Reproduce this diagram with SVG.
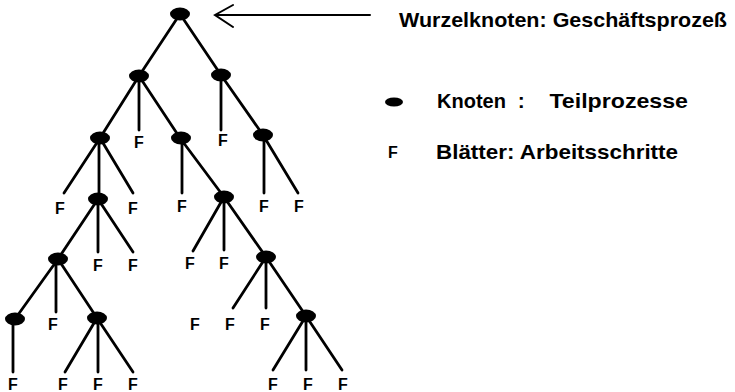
<svg xmlns="http://www.w3.org/2000/svg" width="735" height="392" viewBox="0 0 735 392">
<style>
  .edge { stroke: #000; stroke-width: 2.8; stroke-linecap: round; fill: none; }
  .node { fill: #000; }
  .leaf { font-family: "Liberation Sans", Arial, sans-serif; font-weight: bold; font-size: 16px; text-anchor: middle; fill: #000; }
  .lbl { font-family: "Liberation Sans", Arial, sans-serif; font-weight: bold; font-size: 21px; fill: #000; }
</style>
<rect width="735" height="392" fill="#fff"/>
<g id="connectors">
  <path class="edge" style="stroke-width:2" d="M215 15 H370 M233 5 L215 15 L233 27"/>
  <path class="edge" d="M180 14 L139 76 M180 14 L221 75"/>
  <path class="edge" d="M139 76 L100 138 M139 76 V130 M139 76 L180 138"/>
  <path class="edge" d="M221 75 V130 M221 75 L263 135"/>
  <path class="edge" d="M100 138 L64 193 M99 138 V193 M100 138 L133 193"/>
  <path class="edge" d="M182 138 V193 M180 138 L224 197"/>
  <path class="edge" d="M264 135 V193 M263 135 L298 193"/>
  <path class="edge" d="M98 199 L58 259 M98 199 V252 M98 199 L133 252"/>
  <path class="edge" d="M224 197 L193 251 M224 197 V250 M224 197 L266 257"/>
  <path class="edge" d="M58 259 L15 319 M56 259 V312 M58 259 L97 318"/>
  <path class="edge" d="M266 257 L233 308 M266 257 V308 M266 257 L306 316"/>
  <path class="edge" d="M13 319 V372"/>
  <path class="edge" d="M97 318 L65 372 M98 318 V372 M97 318 L133 372"/>
  <path class="edge" d="M306 316 L273 370 M306 316 V370 M306 316 L342 370"/>
</g>
<g id="n0"><ellipse class="node" cx="180" cy="14" rx="10" ry="6.5"/></g>
<g id="n1"><ellipse class="node" cx="139" cy="76" rx="10" ry="6.5"/></g>
<g id="n2"><ellipse class="node" cx="221" cy="75" rx="10" ry="6.5"/></g>
<g id="n3"><ellipse class="node" cx="100" cy="138" rx="10" ry="6.5"/></g>
<g id="n4"><ellipse class="node" cx="181" cy="138" rx="10" ry="6.5"/></g>
<g id="n5"><ellipse class="node" cx="263" cy="135" rx="10" ry="6.5"/></g>
<g id="n6"><ellipse class="node" cx="98" cy="199" rx="10" ry="6.5"/></g>
<g id="n7"><ellipse class="node" cx="224" cy="197" rx="10" ry="6.5"/></g>
<g id="n8"><ellipse class="node" cx="58" cy="259" rx="10" ry="6.5"/></g>
<g id="n9"><ellipse class="node" cx="266" cy="257" rx="10" ry="6.5"/></g>
<g id="n10"><ellipse class="node" cx="15" cy="319" rx="10" ry="6.5"/></g>
<g id="n11"><ellipse class="node" cx="97" cy="318" rx="10" ry="6.5"/></g>
<g id="n12"><ellipse class="node" cx="306" cy="316" rx="10" ry="6.5"/></g>
<g id="leaves">
  <text class="leaf" x="139" y="148">F</text>
  <text class="leaf" x="223" y="146">F</text>
  <text class="leaf" x="60" y="214">F</text>
  <text class="leaf" x="133" y="214">F</text>
  <text class="leaf" x="182" y="212">F</text>
  <text class="leaf" x="264" y="212">F</text>
  <text class="leaf" x="299" y="212">F</text>
  <text class="leaf" x="98" y="271">F</text>
  <text class="leaf" x="133" y="271">F</text>
  <text class="leaf" x="190" y="269">F</text>
  <text class="leaf" x="224" y="269">F</text>
  <text class="leaf" x="53" y="330">F</text>
  <text class="leaf" x="195" y="330">F</text>
  <text class="leaf" x="230" y="330">F</text>
  <text class="leaf" x="265" y="330">F</text>
  <text class="leaf" x="13" y="390">F</text>
  <text class="leaf" x="63" y="390">F</text>
  <text class="leaf" x="98" y="390">F</text>
  <text class="leaf" x="133" y="390">F</text>
  <text class="leaf" x="273" y="390">F</text>
  <text class="leaf" x="308" y="390">F</text>
  <text class="leaf" x="343" y="390">F</text>
</g>
<g id="legend">
  <text class="lbl" x="399" y="27" textLength="328" lengthAdjust="spacingAndGlyphs">Wurzelknoten: Geschäftsprozeß</text>
  <ellipse class="node" cx="394" cy="102" rx="9" ry="4.5"/>
  <text class="lbl" y="108"><tspan x="437" style="font-size:20px">Knoten</tspan><tspan x="512"> :</tspan><tspan x="543" textLength="145" lengthAdjust="spacingAndGlyphs"> Teilprozesse</tspan></text>
  <text class="leaf" x="393" y="158">F</text>
  <text class="lbl" x="436" y="159" textLength="242" lengthAdjust="spacingAndGlyphs">Blätter: Arbeitsschritte</text>
</g>
</svg>
